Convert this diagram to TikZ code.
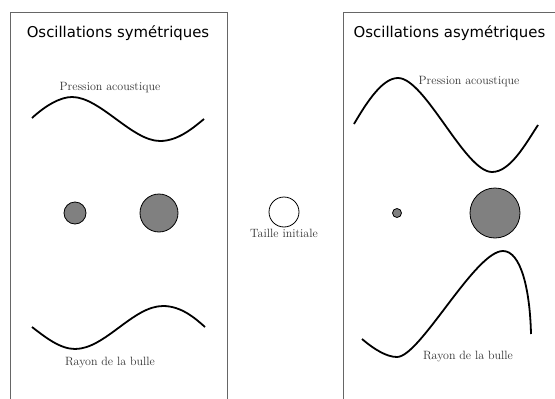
\documentclass[tikz,border=0pt]{standalone}
\usepackage{fontspec}
\newfontfamily\titlefont{DejaVu Sans}
\begin{document}
\begin{tikzpicture}[x=1pt,y=-1pt,
  framebox/.style={draw=black!60,line width=0.9pt},
  wave/.style={draw=black,line width=1.8pt},
  title/.style={inner sep=0pt,font=\titlefont\fontsize{14.9}{16}\selectfont},
  lbl/.style={inner sep=0pt,font=\fontsize{12}{13}\selectfont,text=black!80},
  bubble/.style={circle,draw=black,line width=0.8pt,fill=black!50,inner sep=0pt},
  initbubble/.style={circle,draw=black,line width=0.8pt,fill=white,inner sep=0pt}]
\useasboundingbox (0,0) rectangle (555,399);
% frames
\draw[framebox] (10,399) -- (10,12) -- (227,12) -- (227,399);
\draw[framebox] (343,399) -- (343,12) -- (555,12);
% titles
\node[title] (t1) at (118,33) {Oscillations symétriques};
\node[title] (t2) at (449.5,33) {Oscillations asymétriques};
% left panel
\node[lbl] (p1) at (110,88) {Pression acoustique};
\draw[wave] (32,118) .. controls (45,106) and (60,97) .. (72,97)
  .. controls (100,97) and (132,141) .. (160,141)
  .. controls (178,141) and (193,128) .. (204,119);
\node[bubble,minimum size=22pt] (b1) at (75,213) {};
\node[bubble,minimum size=38pt] (b2) at (159,213) {};
\draw[wave] (32,327) .. controls (45,337) and (60,349) .. (75,349)
  .. controls (105,349) and (133,306) .. (163,306)
  .. controls (181,306) and (195,318) .. (205,327);
\node[lbl] (r1) at (110,363) {Rayon de la bulle};
% center
\node[initbubble,minimum size=30pt] (b0) at (284,212) {};
\node[lbl] (ti) at (284,233) {Taille initiale};
% right panel
\draw[wave] (354,124) .. controls (368,100) and (383,78) .. (398,78)
  .. controls (425,78) and (465,172) .. (492,172)
  .. controls (510,172) and (525,145) .. (538,125);
\node[lbl] (p2) at (469,82) {Pression acoustique};
\node[bubble,minimum size=9pt] (b3) at (397,213) {};
\node[bubble,minimum size=50pt] (b4) at (495,213) {};
\draw[wave] (362,339) .. controls (375,350) and (387,357) .. (397,357)
  .. controls (420,357) and (475,251) .. (503,251)
  .. controls (521,251) and (530,290) .. (531,334);
\node[lbl] (r2) at (468,357) {Rayon de la bulle};
\end{tikzpicture}
\end{document}
